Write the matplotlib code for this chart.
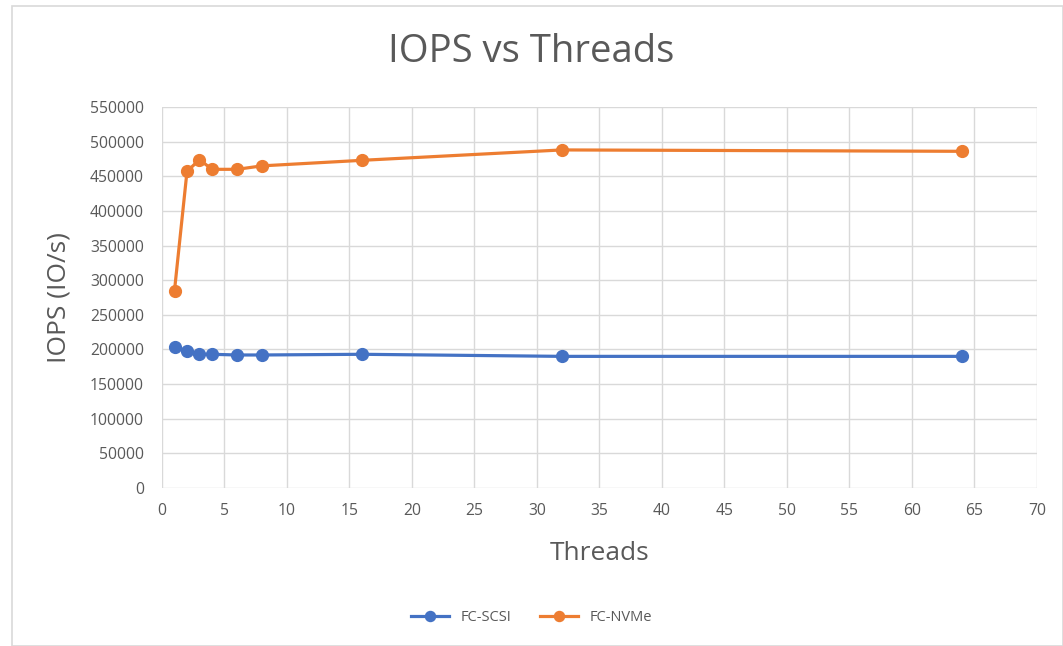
import matplotlib.pyplot as plt
from matplotlib.patches import Rectangle

threads = [1, 2, 3, 4, 6, 8, 16, 32, 64]
fc_scsi = [203000, 198000, 193000, 193000, 192000, 192000, 193000, 190000, 190000]
fc_nvme = [285000, 457000, 474000, 460000, 460000, 465000, 473000, 488000, 486000]

plt.rcParams['font.family'] = ['Open Sans', 'DejaVu Sans']
text_color = '#595959'

fig = plt.figure(figsize=(10.63, 6.46), dpi=100)
ax = fig.add_axes([0.1524, 0.2446, 0.8231, 0.5898])

# light chart-area border
fig.patches.append(Rectangle((0.011, 0.0), 0.989, 0.991, transform=fig.transFigure,
                             fill=False, edgecolor='#d9d9d9', linewidth=1.2))

ax.plot(threads, fc_scsi, color='#4472c4', marker='o', markersize=8.5, linewidth=2.3, label='FC-SCSI')
ax.plot(threads, fc_nvme, color='#ed7d31', marker='o', markersize=8.5, linewidth=2.3, label='FC-NVMe')

ax.set_xlim(0, 70)
ax.set_ylim(0, 550000)
ax.set_xticks(range(0, 71, 5))
ax.set_yticks(range(0, 550001, 50000))
ax.grid(True, color='#d9d9d9', linewidth=1)
ax.set_axisbelow(True)
for s in ax.spines.values():
    s.set_visible(False)
ax.tick_params(length=0, labelsize=11.3, colors=text_color)
ax.tick_params(axis='y', pad=13)
ax.tick_params(axis='x', pad=11)

fig.text(0.5, 0.92, 'IOPS vs Threads', ha='center', va='center', fontsize=27.5, color=text_color)
ax.set_xlabel('Threads', fontsize=19, color=text_color, labelpad=16)
ax.set_ylabel('IOPS (IO/s)', fontsize=19, color=text_color, labelpad=13)

fig.legend(loc='center', bbox_to_anchor=(0.5, 0.044), ncol=2, frameon=False,
           fontsize=10.5, labelcolor=text_color, handlelength=2.6, columnspacing=2.0,
           markerscale=0.85)

fig.savefig('out.png', dpi=100)
